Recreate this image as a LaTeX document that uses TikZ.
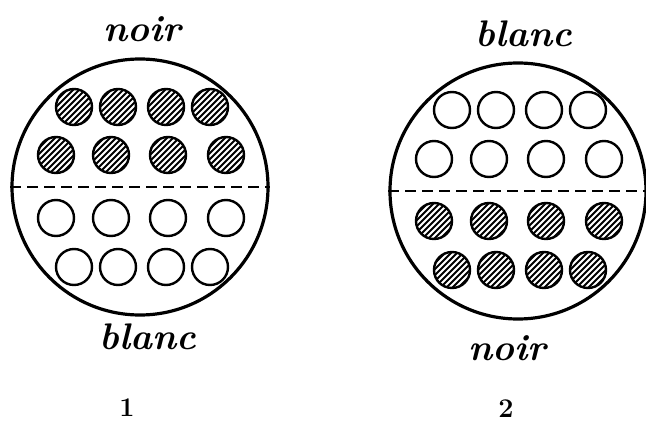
\documentclass[tikz,border=0pt]{standalone}
\usepackage{tikz}
\usetikzlibrary{positioning, calc}

\begin{document}
\begin{tikzpicture}[x=1pt, y=-1pt]
    % Styles
    \tikzstyle{ring} = [circle, draw, line width=3.2pt, minimum size=256pt, inner sep=0pt]
    \tikzstyle{split} = [line width=2.4pt, dash pattern=on 11pt off 6pt]
    \tikzstyle{blancdisk} = [circle, draw, line width=2.4pt, minimum size=36pt, inner sep=0pt]
    \tikzstyle{noirdisk} = [blancdisk, path picture={
        \foreach \k in {-36,-30,...,36}
            \draw[line width=1.9pt] ([xshift=\k pt]path picture bounding box.center) ++(-26pt,-26pt) -- ++(52pt,52pt);}]
    \tikzstyle{word} = [font=\fontsize{37}{40}\selectfont\bfseries\itshape, inner sep=0pt]
    \tikzstyle{numeral} = [font=\fontsize{27}{30}\selectfont\bfseries, inner sep=0pt]

    \useasboundingbox (0,0) rectangle (646,423);

    % Nodes
    \node [ring] (disc1) at (140,187) {};
    \node [ring] (disc2) at (518,191) {};

    \foreach \dx [count=\i] in {-66,-22,26,70} {
        \node [noirdisk] (a\i) at ($(disc1)+(\dx,-80)$) {};
        \node [blancdisk] (d\i) at ($(disc1)+(\dx,80)$) {};
        \node [blancdisk] (e\i) at ($(disc2)+(\dx,-81)$) {};
        \node [noirdisk] (h\i) at ($(disc2)+(\dx,79)$) {};
    }
    \foreach \dx [count=\i] in {-84,-29,28,86} {
        \node [noirdisk] (b\i) at ($(disc1)+(\dx,-32)$) {};
        \node [blancdisk] (c\i) at ($(disc1)+(\dx,31)$) {};
        \node [blancdisk] (f\i) at ($(disc2)+(\dx,-32)$) {};
        \node [noirdisk] (g\i) at ($(disc2)+(\dx,30)$) {};
    }

    \node [word] (top1) at (142,29) {noir};
    \node [word] (bot1) at (148,337) {blanc};
    \node [word] (top2) at (524,34) {blanc};
    \node [word] (bot2) at (507,348) {noir};

    \node [numeral] (num1) at (127,408) {1};
    \node [numeral] (num2) at (506,409) {2};

    % Paths
    \draw [split] (disc1.west) -- (disc1.east);
    \draw [split] (disc2.west) -- (disc2.east);
\end{tikzpicture}
\end{document}
